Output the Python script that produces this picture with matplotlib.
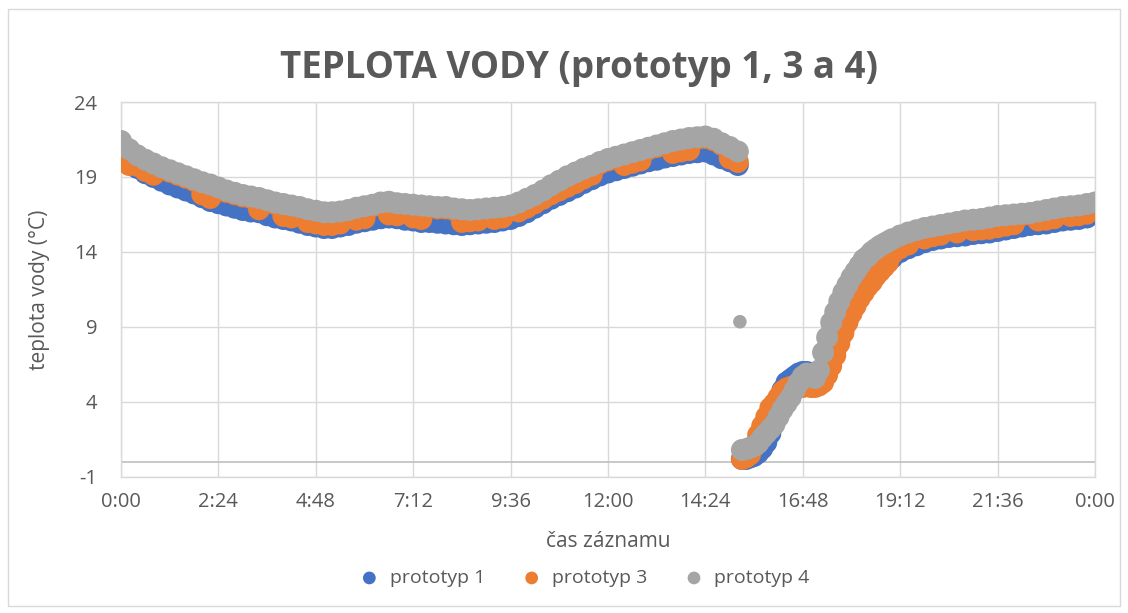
import matplotlib.pyplot as plt
from matplotlib.patches import Rectangle

# time of record in hours (one shared grid for all three prototypes)
time_h = [
    0.0, 0.2, 0.4, 0.6, 0.8, 1.0, 1.2, 1.4, 1.6, 1.8,
    2.0, 2.2, 2.4, 2.6, 2.8, 3.0, 3.2, 3.4, 3.6, 3.8,
    4.0, 4.2, 4.4, 4.6, 4.8, 5.0, 5.2, 5.4, 5.6, 5.8,
    6.0, 6.2, 6.4, 6.6, 6.8, 7.0, 7.2, 7.4, 7.6, 7.8,
    8.0, 8.2, 8.4, 8.6, 8.8, 9.0, 9.2, 9.4, 9.6, 9.8,
    10.0, 10.2, 10.4, 10.6, 10.8, 11.0, 11.2, 11.4, 11.6, 11.8,
    12.0, 12.2, 12.4, 12.6, 12.8, 13.0, 13.2, 13.4, 13.6, 13.8,
    14.0, 14.2, 14.4, 14.6, 14.8, 15.0, 15.2,
    15.3, 15.4, 15.5, 15.6, 15.7, 15.8, 15.9, 16.0, 16.1, 16.2,
    16.3, 16.4, 16.5, 16.6, 16.7, 16.8, 16.9, 17.0, 17.1, 17.2,
    17.3, 17.4, 17.5, 17.6, 17.7, 17.8, 17.9, 18.0, 18.1, 18.2,
    18.3, 18.4, 18.5, 18.6, 18.7, 18.8, 18.9,
    19.0, 19.2, 19.4, 19.6, 19.8, 20.0, 20.2, 20.4, 20.6, 20.8,
    21.0, 21.2, 21.4, 21.6, 21.8, 22.0, 22.2, 22.4, 22.6, 22.8,
    23.0, 23.2, 23.4, 23.6, 23.8, 24.0,
]

prototyp_1 = [
    20.9, 20.2, 19.6, 19.25, 19.0, 18.75, 18.5, 18.3, 18.1, 17.9,
    17.65, 17.4, 17.25, 17.1, 16.95, 16.8, 16.7, 16.65, 16.45, 16.3,
    16.2, 16.1, 15.95, 15.8, 15.7, 15.6, 15.6, 15.7, 15.8, 15.95,
    16.05, 16.15, 16.25, 16.3, 16.25, 16.15, 16.1, 16.0, 16.0, 15.95,
    15.9, 15.85, 15.8, 15.85, 15.9, 15.95, 16.0, 16.1, 16.2, 16.4,
    16.65, 16.95, 17.25, 17.55, 17.8, 18.05, 18.3, 18.6, 18.85, 19.1,
    19.3, 19.45, 19.6, 19.75, 19.9, 20.05, 20.15, 20.3, 20.4, 20.5,
    20.6, 20.65, 20.7, 20.5, 20.25, 20.05, 19.8,
    0.2, 0.2, 0.3, 0.4, 0.6, 0.9, 1.3, 1.9, 2.9, 3.9,
    4.8, 5.3, 5.5, 5.7, 5.9, 6.0, 6.0, 5.9, 5.9, 6.0,
    6.1, 6.4, 6.8, 7.4, 8.1, 8.8, 9.4, 10.0, 10.6, 11.1,
    11.6, 12.1, 12.5, 12.8, 13.1, 13.3, 13.5,
    13.6, 14.0, 14.25, 14.45, 14.65, 14.8, 14.9, 15.0, 15.05, 15.1,
    15.2, 15.25, 15.3, 15.4, 15.5, 15.6, 15.7, 15.8, 15.85, 15.9,
    16.0, 16.1, 16.15, 16.2, 16.3, 16.6,
]

prototyp_3 = [
    20.4, 19.8, 19.75, 19.4, 19.15, 19.55, 19.35, 19.15, 18.95, 18.75,
    17.85, 17.6, 18.2, 18.0, 17.85, 17.7, 17.6, 16.85, 17.35, 17.2,
    16.4, 16.3, 16.9, 16.0, 15.9, 15.8, 15.8, 15.9, 16.7, 16.15,
    16.25, 17.05, 17.2, 16.5, 16.45, 17.1, 16.3, 16.2, 16.95, 16.9,
    16.9, 16.8, 16.0, 16.05, 16.1, 16.8, 16.2, 16.3, 17.0, 16.7,
    16.95, 17.25, 17.55, 17.85, 18.1, 18.35, 18.6, 18.9, 19.15, 19.9,
    20.1, 20.25, 19.8, 19.95, 20.1, 20.85, 21.0, 21.15, 20.6, 20.7,
    20.8, 21.55, 21.6, 21.45, 21.15, 20.25, 20.0,
    0.2, 0.3, 0.5, 1.0, 1.8, 2.4, 3.0, 3.6, 3.9, 4.3,
    4.7, 4.9, 5.0, 5.0, 5.0, 5.0, 5.1, 5.0, 5.0, 5.1,
    5.3, 5.8, 6.4, 7.1, 7.9, 8.6, 9.3, 9.9, 10.4, 10.9,
    11.3, 11.7, 12.0, 12.4, 12.7, 13.0, 13.3,
    13.85, 14.25, 14.5, 15.35, 14.9, 15.05, 15.15, 15.8, 15.3, 16.0,
    15.45, 15.5, 15.55, 15.65, 15.75, 15.85, 16.45, 16.5, 16.1, 16.15,
    16.25, 16.9, 16.4, 16.45, 16.55, 17.2,
]

prototyp_4 = [
    21.4, 20.85, 20.45, 20.15, 19.9, 19.65, 19.45, 19.25, 19.05, 18.85,
    18.65, 18.5, 18.3, 18.1, 17.95, 17.8, 17.7, 17.6, 17.45, 17.3,
    17.2, 17.1, 17.0, 16.85, 16.75, 16.65, 16.65, 16.7, 16.8, 16.95,
    17.05, 17.15, 17.3, 17.35, 17.25, 17.2, 17.15, 17.1, 17.05, 17.0,
    17.0, 16.9, 16.85, 16.8, 16.85, 16.9, 16.95, 17.0, 17.1, 17.3,
    17.55, 17.8, 18.1, 18.45, 18.75, 19.05, 19.3, 19.55, 19.75, 20.0,
    20.2, 20.35, 20.5, 20.65, 20.8, 20.95, 21.1, 21.25, 21.4, 21.5,
    21.6, 21.65, 21.7, 21.55, 21.25, 21.0, 20.7,
    0.8, 0.85, 0.95, 1.05, 1.25, 1.6, 1.9, 2.2, 2.5, 3.0,
    3.5, 3.9, 4.3, 4.8, 5.3, 5.7, 5.9, 5.7, 5.6, 6.1,
    7.3, 8.3, 9.3, 10.0, 10.7, 11.3, 11.8, 12.3, 12.7, 13.1,
    13.5, 13.7, 14.0, 14.2, 14.4, 14.55, 14.7,
    14.85, 15.1, 15.3, 15.45, 15.6, 15.7, 15.8, 15.9, 16.0, 16.1,
    16.15, 16.2, 16.3, 16.4, 16.45, 16.5, 16.55, 16.6, 16.7, 16.8,
    16.9, 17.0, 17.05, 17.1, 17.2, 17.3,
]

# single stray reading of prototype 4 during the drop
outlier_time_h = [15.25]
outlier_value = [9.35]

x_ticks = [0.0, 2.4, 4.8, 7.2, 9.6, 12.0, 14.4, 16.8, 19.2, 21.6, 24.0]
x_tick_labels = ["0:00", "2:24", "4:48", "7:12", "9:36", "12:00",
                 "14:24", "16:48", "19:12", "21:36", "0:00"]
y_ticks = [-1, 4, 9, 14, 19, 24]

plt.rcParams["font.family"] = ["Open Sans", "DejaVu Sans"]
plt.rcParams["axes.unicode_minus"] = False
text_color = "#595959"
grid_color = "#D9D9D9"

fig = plt.figure(figsize=(11.28, 6.13), dpi=100)
ax = fig.add_axes([0.1073, 0.2219, 0.8634, 0.6117])

size = 250
ax.scatter(time_h, prototyp_1, s=size, color="#4472C4", edgecolors="none",
           label="prototyp 1", zorder=3)
ax.scatter(time_h, prototyp_3, s=size, color="#ED7D31", edgecolors="none",
           label="prototyp 3", zorder=4)
ax.scatter(time_h, prototyp_4, s=size, color="#A5A5A5", edgecolors="none",
           label="prototyp 4", zorder=5)
ax.scatter(outlier_time_h, outlier_value, s=95, color="#A5A5A5",
           edgecolors="none", zorder=5)

ax.set_xlim(0, 24)
ax.set_ylim(-1, 24)
ax.set_xticks(x_ticks)
ax.set_xticklabels(x_tick_labels)
ax.set_yticks(y_ticks)
ax.grid(True, color=grid_color, linewidth=1.0, zorder=0)
ax.set_axisbelow(True)
# horizontal axis crosses at zero, as in the spreadsheet chart
ax.axhline(0, color="#BFBFBF", linewidth=1.2, zorder=1)
for side in ax.spines.values():
    side.set_color(grid_color)
    side.set_linewidth(1.0)
ax.tick_params(axis="both", length=0, labelsize=14.5, labelcolor=text_color)
ax.tick_params(axis="y", pad=17)
ax.tick_params(axis="x", pad=11)

ax.set_xlabel("čas záznamu", fontsize=15, color=text_color)
ax.xaxis.set_label_coords(0.5, -0.145)
ax.set_ylabel("teplota vody (°C)", fontsize=15, color=text_color)
ax.yaxis.set_label_coords(-0.073, 0.5)

fig.text(0.513, 0.889, "TEPLOTA VODY (prototyp 1, 3 a 4)", ha="center",
         va="center", fontsize=26.5, fontweight="bold", color=text_color)

leg = fig.legend(loc="center", bbox_to_anchor=(0.514, 0.057), ncol=3,
                 frameon=False, fontsize=14, handletextpad=0.05,
                 columnspacing=1.4, markerscale=0.58)
for t in leg.get_texts():
    t.set_color(text_color)

# chart area border
fig.patches.append(Rectangle((0.007, 0.012), 0.986, 0.973, transform=fig.transFigure,
                             fill=False, edgecolor=grid_color, linewidth=1.0))

fig.savefig("out.png", dpi=100)
